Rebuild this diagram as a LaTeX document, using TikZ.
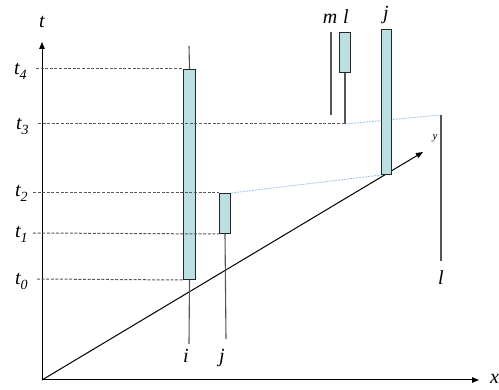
\documentclass[tikz,border=0pt]{standalone}
\usepackage{fontspec}
\setmainfont{Liberation Serif}[ItalicFont={Liberation Serif Italic}]
\usetikzlibrary{arrows.meta,backgrounds}
\definecolor{barfill}{HTML}{BCDFE1}
\definecolor{stemgray}{HTML}{555555}
\definecolor{linkblue}{HTML}{9CC8F2}
\newcommand{\tsub}[1]{\textit{t\kern-0.2pt\raisebox{-0.45ex}{\fontsize{14}{14}\selectfont #1}}}

\begin{document}
\begin{tikzpicture}[x=1pt,y=-1pt,
  font=\fontsize{20}{22}\selectfont\itshape,
  axis/.style={line width=1pt,-{Triangle[length=7pt,width=5.5pt]}},
  bar/.style={draw=black!85,fill=barfill,line width=1pt,inner sep=0pt,anchor=north west},
  stem/.style={draw=stemgray,line width=1.1pt},
  level/.style={black!65,line width=1pt,dash pattern=on 3pt off 1.6pt},
  link/.style={linkblue,line width=0.9pt,dash pattern=on 2pt off 1pt},
  lab/.style={anchor=base,inner sep=0pt}]
\useasboundingbox (0,0) rectangle (499,390);
% axes
\coordinate (origin) at (42,380);
\coordinate (tend) at (42,42);
\coordinate (xend) at (479,380);
\coordinate (yend) at (423,152);
\draw[axis] (origin) -- (tend);
\draw[axis] (origin) -- (xend);
\draw[axis] (origin) -- (yend);
\node[lab] (tlab) at (42,28) {t};
\node[anchor=base west,inner sep=0pt] (xlab) at (490,384) {x};
\node[lab,font=\fontsize{11}{11}\selectfont\itshape] (ylab) at (435,140) {y};
% lifetimes
\node[bar,minimum width=12pt,minimum height=210pt] (bari) at (183,69) {};
\node[bar,minimum width=11pt,minimum height=40pt] (barj) at (219,193) {};
\node[bar,minimum width=11pt,minimum height=40pt] (barl) at (339,32) {};
\node[bar,minimum width=10pt,minimum height=145pt] (barbig) at (381,29) {};
\coordinate (itop) at (189,46);
\coordinate (ibot) at (189,344);
\coordinate (jbot) at (226,339);
\coordinate (lbot) at (345,124);
\coordinate (mtop) at (331,32);
\coordinate (mbot) at (331,115);
\coordinate (ltop) at (441,115);
\coordinate (lend) at (441,261);
\draw[stem] (bari.north) -- (itop);
\draw[stem] (bari.south) -- (ibot);
\draw[stem] (barj.south) -- (jbot);
\draw[stem] (barl.south) -- (lbot);
\draw[stem] (mtop) -- (mbot);
\draw[stem] (ltop) -- (lend);
% links
\begin{pgfonlayer}{background}
  \draw[link] (barj.north east) -- (barbig.south west);
  \draw[link] (lbot) -- (ltop);
\end{pgfonlayer}
% levels
\node[anchor=base west,inner sep=0pt] (tfour) at (14,75) {\tsub{4}};
\node[anchor=base west,inner sep=0pt] (tthree) at (16,130) {\tsub{3}};
\node[anchor=base west,inner sep=0pt] (ttwo) at (15,197) {\tsub{2}};
\node[anchor=base west,inner sep=0pt] (tone) at (15,238) {\tsub{1}};
\node[anchor=base west,inner sep=0pt] (tzero) at (15,285) {\tsub{0}};
\draw[level] (36,69) -- (bari.north west);
\draw[level] (38,124) -- (lbot);
\draw[level] (33,193) -- (barj.north west);
\draw[level] (33,233) -- (barj.south west);
\draw[level] (37,279) -- (bari.south west);
% names
\node[lab] (ilab) at (186,363) {i};
\node[lab] (jlab) at (222,363) {j};
\node[lab] (mlab) at (330,24) {m};
\node[lab] (llab) at (346,24) {l};
\node[lab] (jtop) at (386,20) {j};
\node[lab] (lbotlab) at (441,285) {l};
\end{tikzpicture}
\end{document}
